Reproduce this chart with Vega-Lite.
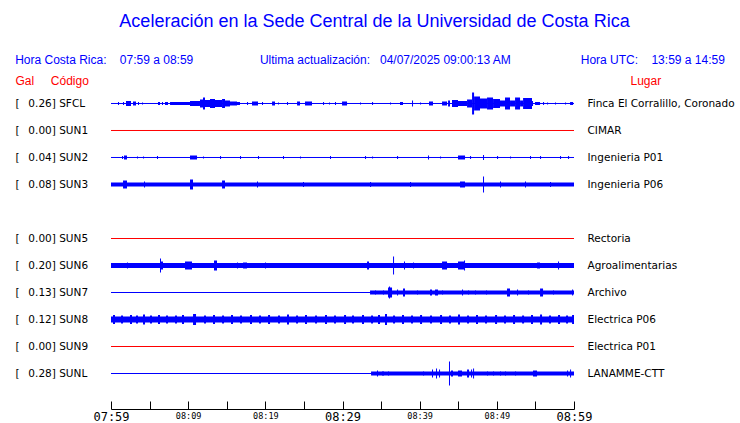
{
  "$schema": "https://vega.github.io/schema/vega-lite/v6.json",
  "width": 463,
  "height": 319,
  "autosize": "none",
  "padding": {"left": 111, "top": 90, "right": 166, "bottom": 14},
  "background": "white",
  "config": {"view": {"stroke": null}, "font": "DejaVu Sans"},
  "title": {
    "text": "Aceleración en la Sede Central de la Universidad de Costa Rica",
    "subtitle": "Hora Costa Rica:\u00a0\u00a0\u00a0\u00a007:59 a 08:59\u00a0\u00a0\u00a0\u00a0\u00a0\u00a0\u00a0\u00a0\u00a0\u00a0\u00a0\u00a0\u00a0\u00a0\u00a0\u00a0\u00a0\u00a0\u00a0\u00a0Ultima actualización:\u00a0\u00a0\u00a004/07/2025 09:00:13 AM\u00a0\u00a0\u00a0\u00a0\u00a0\u00a0\u00a0\u00a0\u00a0\u00a0\u00a0\u00a0\u00a0\u00a0\u00a0\u00a0\u00a0\u00a0\u00a0\u00a0\u00a0Hora UTC:\u00a0\u00a0\u00a0\u00a013:59 a 14:59\u2800",
    "anchor": "middle",
    "frame": "group",
    "dx": 32,
    "offset": 8,
    "font": "Liberation Sans",
    "fontSize": 18,
    "fontWeight": "normal",
    "color": "#0000ff",
    "subtitleFont": "Liberation Sans",
    "subtitleFontSize": 12,
    "subtitleColor": "#0000ff",
    "subtitlePadding": 24
  },
  "datasets": {
    "estaciones": [
      {"codigo": "SFCL", "gal": 0.26, "etiqueta": "[\u00a0\u00a0\u20090.26] SFCL", "lugar": "Finca El Corralillo, Coronado"},
      {"codigo": "SUN1", "gal": 0.00, "etiqueta": "[\u00a0\u00a0\u20090.00] SUN1", "lugar": "CIMAR"},
      {"codigo": "SUN2", "gal": 0.04, "etiqueta": "[\u00a0\u00a0\u20090.04] SUN2", "lugar": "Ingenieria P01"},
      {"codigo": "SUN3", "gal": 0.08, "etiqueta": "[\u00a0\u00a0\u20090.08] SUN3", "lugar": "Ingenieria P06"},
      {"codigo": "SUN4", "etiqueta": "", "lugar": ""},
      {"codigo": "SUN5", "gal": 0.00, "etiqueta": "[\u00a0\u00a0\u20090.00] SUN5", "lugar": "Rectoria"},
      {"codigo": "SUN6", "gal": 0.20, "etiqueta": "[\u00a0\u00a0\u20090.20] SUN6", "lugar": "Agroalimentarias"},
      {"codigo": "SUN7", "gal": 0.13, "etiqueta": "[\u00a0\u00a0\u20090.13] SUN7", "lugar": "Archivo"},
      {"codigo": "SUN8", "gal": 0.12, "etiqueta": "[\u00a0\u00a0\u20090.12] SUN8", "lugar": "Electrica P06"},
      {"codigo": "SUN9", "gal": 0.00, "etiqueta": "[\u00a0\u00a0\u20090.00] SUN9", "lugar": "Electrica P01"},
      {"codigo": "SUNL", "gal": 0.28, "etiqueta": "[\u00a0\u00a0\u20090.28] SUNL", "lugar": "LANAMME-CTT"}
    ],
    "senal": [
      {"c":"SFCL","a":0.91,"b":1.04,"h":3},
      {"c":"SFCL","a":1.56,"b":1.69,"h":3},
      {"c":"SFCL","a":1.94,"b":2.59,"h":5},
      {"c":"SFCL","a":2.85,"b":3.24,"h":4},
      {"c":"SFCL","a":3.50,"b":3.63,"h":3},
      {"c":"SFCL","a":4.02,"b":4.15,"h":2},
      {"c":"SFCL","a":6.09,"b":6.35,"h":3},
      {"c":"SFCL","a":6.61,"b":6.74,"h":3},
      {"c":"SFCL","a":7.00,"b":7.39,"h":3},
      {"c":"SFCL","a":7.65,"b":10.24,"h":3},
      {"c":"SFCL","a":10.24,"b":11.53,"h":5},
      {"c":"SFCL","a":11.53,"b":11.92,"h":8},
      {"c":"SFCL","a":11.92,"b":12.18,"h":12},
      {"c":"SFCL","a":12.18,"b":12.83,"h":7},
      {"c":"SFCL","a":12.83,"b":13.48,"h":9},
      {"c":"SFCL","a":13.48,"b":14.39,"h":7},
      {"c":"SFCL","a":14.39,"b":14.77,"h":9},
      {"c":"SFCL","a":14.77,"b":15.42,"h":6},
      {"c":"SFCL","a":15.42,"b":16.33,"h":4},
      {"c":"SFCL","a":16.33,"b":16.72,"h":3},
      {"c":"SFCL","a":17.63,"b":17.76,"h":3},
      {"c":"SFCL","a":18.27,"b":19.05,"h":4},
      {"c":"SFCL","a":19.57,"b":19.70,"h":3},
      {"c":"SFCL","a":20.87,"b":21.25,"h":4},
      {"c":"SFCL","a":21.64,"b":21.77,"h":2},
      {"c":"SFCL","a":22.81,"b":22.94,"h":3},
      {"c":"SFCL","a":24.11,"b":24.49,"h":4},
      {"c":"SFCL","a":25.14,"b":26.05,"h":4},
      {"c":"SFCL","a":27.48,"b":27.61,"h":3},
      {"c":"SFCL","a":28.25,"b":28.38,"h":2},
      {"c":"SFCL","a":29.03,"b":29.16,"h":3},
      {"c":"SFCL","a":29.94,"b":30.59,"h":4},
      {"c":"SFCL","a":32.27,"b":32.40,"h":2},
      {"c":"SFCL","a":33.83,"b":33.96,"h":3},
      {"c":"SFCL","a":36.16,"b":36.29,"h":2},
      {"c":"SFCL","a":37.45,"b":37.84,"h":3},
      {"c":"SFCL","a":39.01,"b":39.14,"h":6},
      {"c":"SFCL","a":40.05,"b":40.18,"h":2},
      {"c":"SFCL","a":41.21,"b":41.73,"h":4},
      {"c":"SFCL","a":42.90,"b":43.55,"h":4},
      {"c":"SFCL","a":43.68,"b":43.93,"h":6},
      {"c":"SFCL","a":44.19,"b":44.97,"h":7},
      {"c":"SFCL","a":44.97,"b":46.14,"h":5},
      {"c":"SFCL","a":46.14,"b":46.79,"h":8},
      {"c":"SFCL","a":46.79,"b":47.05,"h":22},
      {"c":"SFCL","a":47.05,"b":47.82,"h":14},
      {"c":"SFCL","a":47.82,"b":48.73,"h":10},
      {"c":"SFCL","a":48.73,"b":49.51,"h":12},
      {"c":"SFCL","a":49.51,"b":50.41,"h":9},
      {"c":"SFCL","a":50.41,"b":51.06,"h":6},
      {"c":"SFCL","a":51.06,"b":51.71,"h":12},
      {"c":"SFCL","a":51.71,"b":52.36,"h":6},
      {"c":"SFCL","a":52.36,"b":53.01,"h":12},
      {"c":"SFCL","a":53.01,"b":53.40,"h":6},
      {"c":"SFCL","a":53.40,"b":54.56,"h":11},
      {"c":"SFCL","a":54.56,"b":54.69,"h":5},
      {"c":"SFCL","a":54.95,"b":55.60,"h":3},
      {"c":"SFCL","a":55.99,"b":56.12,"h":3},
      {"c":"SFCL","a":56.51,"b":56.64,"h":2},
      {"c":"SFCL","a":57.54,"b":57.67,"h":2},
      {"c":"SFCL","a":58.84,"b":58.97,"h":2},
      {"c":"SFCL","a":59.49,"b":59.88,"h":3},

      {"c":"SUN2","a":1.43,"b":1.56,"h":3},
      {"c":"SUN2","a":1.68,"b":2.07,"h":4},
      {"c":"SUN2","a":3.37,"b":3.50,"h":2},
      {"c":"SUN2","a":4.15,"b":4.28,"h":2},
      {"c":"SUN2","a":5.96,"b":6.09,"h":3},
      {"c":"SUN2","a":10.24,"b":11.15,"h":4},
      {"c":"SUN2","a":11.92,"b":12.05,"h":2},
      {"c":"SUN2","a":14.13,"b":14.26,"h":3},
      {"c":"SUN2","a":16.72,"b":16.85,"h":3},
      {"c":"SUN2","a":19.05,"b":19.18,"h":3},
      {"c":"SUN2","a":22.29,"b":22.42,"h":3},
      {"c":"SUN2","a":24.49,"b":24.62,"h":2},
      {"c":"SUN2","a":28.38,"b":28.51,"h":3},
      {"c":"SUN2","a":32.92,"b":33.05,"h":3},
      {"c":"SUN2","a":33.83,"b":33.96,"h":2},
      {"c":"SUN2","a":37.07,"b":37.20,"h":3},
      {"c":"SUN2","a":41.08,"b":41.21,"h":4},
      {"c":"SUN2","a":42.64,"b":42.77,"h":2},
      {"c":"SUN2","a":44.97,"b":45.88,"h":4},
      {"c":"SUN2","a":46.53,"b":46.66,"h":3},
      {"c":"SUN2","a":48.21,"b":48.34,"h":5},
      {"c":"SUN2","a":50.03,"b":50.16,"h":3},
      {"c":"SUN2","a":51.71,"b":51.84,"h":2},
      {"c":"SUN2","a":54.30,"b":54.43,"h":3},
      {"c":"SUN2","a":55.60,"b":55.73,"h":3},
      {"c":"SUN2","a":58.19,"b":58.32,"h":3},
      {"c":"SUN2","a":59.23,"b":59.36,"h":3},

      {"c":"SUN3","a":0,"b":60,"h":4},
      {"c":"SUN3","a":1.56,"b":2.07,"h":8},
      {"c":"SUN3","a":4.28,"b":4.41,"h":6},
      {"c":"SUN3","a":10.24,"b":10.63,"h":10},
      {"c":"SUN3","a":14.39,"b":14.77,"h":8},
      {"c":"SUN3","a":18.92,"b":19.05,"h":6},
      {"c":"SUN3","a":24.88,"b":25.01,"h":5},
      {"c":"SUN3","a":33.57,"b":33.70,"h":5},
      {"c":"SUN3","a":38.75,"b":38.88,"h":5},
      {"c":"SUN3","a":45.23,"b":45.88,"h":6},
      {"c":"SUN3","a":48.21,"b":48.34,"h":16},
      {"c":"SUN3","a":50.41,"b":50.54,"h":6},
      {"c":"SUN3","a":53.65,"b":53.78,"h":6},
      {"c":"SUN3","a":56.89,"b":57.02,"h":5},

      {"c":"SUN6","a":0,"b":60,"h":5},
      {"c":"SUN6","a":2.07,"b":2.20,"h":6},
      {"c":"SUN6","a":3.63,"b":3.76,"h":3},
      {"c":"SUN6","a":6.35,"b":6.48,"h":14},
      {"c":"SUN6","a":6.48,"b":6.74,"h":8},
      {"c":"SUN6","a":9.59,"b":10.50,"h":8},
      {"c":"SUN6","a":13.35,"b":13.74,"h":10},
      {"c":"SUN6","a":16.33,"b":16.46,"h":6},
      {"c":"SUN6","a":17.11,"b":17.63,"h":6},
      {"c":"SUN6","a":19.96,"b":20.09,"h":6},
      {"c":"SUN6","a":23.20,"b":23.33,"h":4},
      {"c":"SUN6","a":27.09,"b":27.22,"h":4},
      {"c":"SUN6","a":29.94,"b":30.07,"h":4},
      {"c":"SUN6","a":31.36,"b":31.49,"h":4},
      {"c":"SUN6","a":32.53,"b":32.66,"h":3},
      {"c":"SUN6","a":33.18,"b":33.44,"h":8},
      {"c":"SUN6","a":33.96,"b":34.09,"h":3},
      {"c":"SUN6","a":36.55,"b":36.68,"h":18},
      {"c":"SUN6","a":37.07,"b":37.45,"h":4},
      {"c":"SUN6","a":37.97,"b":38.10,"h":8},
      {"c":"SUN6","a":39.14,"b":39.27,"h":6},
      {"c":"SUN6","a":40.95,"b":41.08,"h":3},
      {"c":"SUN6","a":41.86,"b":41.99,"h":4},
      {"c":"SUN6","a":42.90,"b":43.55,"h":8},
      {"c":"SUN6","a":43.93,"b":44.06,"h":4},
      {"c":"SUN6","a":44.97,"b":45.75,"h":8},
      {"c":"SUN6","a":45.75,"b":45.88,"h":10},
      {"c":"SUN6","a":46.53,"b":46.66,"h":4},
      {"c":"SUN6","a":47.82,"b":47.95,"h":4},
      {"c":"SUN6","a":49.38,"b":49.51,"h":4},
      {"c":"SUN6","a":50.67,"b":50.80,"h":4},
      {"c":"SUN6","a":52.10,"b":52.23,"h":4},
      {"c":"SUN6","a":53.65,"b":53.78,"h":4},
      {"c":"SUN6","a":55.21,"b":55.60,"h":6},
      {"c":"SUN6","a":56.12,"b":56.25,"h":4},
      {"c":"SUN6","a":57.93,"b":58.06,"h":8},
      {"c":"SUN6","a":59.49,"b":59.62,"h":4},

      {"c":"SUN7","a":33.57,"b":60,"h":4},
      {"c":"SUN7","a":34.21,"b":34.34,"h":4},
      {"c":"SUN7","a":35.25,"b":35.38,"h":4},
      {"c":"SUN7","a":35.90,"b":36.42,"h":10},
      {"c":"SUN7","a":36.03,"b":36.16,"h":12},
      {"c":"SUN7","a":37.07,"b":37.20,"h":6},
      {"c":"SUN7","a":37.84,"b":38.10,"h":8},
      {"c":"SUN7","a":39.66,"b":39.79,"h":4},
      {"c":"SUN7","a":41.34,"b":41.60,"h":6},
      {"c":"SUN7","a":41.99,"b":42.38,"h":6},
      {"c":"SUN7","a":42.90,"b":43.03,"h":4},
      {"c":"SUN7","a":45.49,"b":45.62,"h":6},
      {"c":"SUN7","a":46.27,"b":46.40,"h":4},
      {"c":"SUN7","a":47.17,"b":47.30,"h":4},
      {"c":"SUN7","a":48.60,"b":48.73,"h":4},
      {"c":"SUN7","a":51.32,"b":51.71,"h":8},
      {"c":"SUN7","a":52.62,"b":52.75,"h":6},
      {"c":"SUN7","a":54.04,"b":54.17,"h":4},
      {"c":"SUN7","a":55.60,"b":55.99,"h":8},
      {"c":"SUN7","a":57.28,"b":57.41,"h":4},
      {"c":"SUN7","a":59.75,"b":59.88,"h":6},

      {"c":"SUN8","a":0,"b":60,"h":6},
      {"c":"SUN8","a":0.26,"b":0.52,"h":9},
      {"c":"SUN8","a":1.30,"b":1.56,"h":8},
      {"c":"SUN8","a":2.46,"b":2.72,"h":9},
      {"c":"SUN8","a":3.24,"b":3.50,"h":8},
      {"c":"SUN8","a":4.15,"b":4.41,"h":10},
      {"c":"SUN8","a":5.05,"b":5.31,"h":8},
      {"c":"SUN8","a":6.09,"b":6.35,"h":9},
      {"c":"SUN8","a":7.13,"b":7.39,"h":8},
      {"c":"SUN8","a":8.29,"b":8.55,"h":8},
      {"c":"SUN8","a":9.20,"b":9.46,"h":9},
      {"c":"SUN8","a":10.63,"b":11.02,"h":11},
      {"c":"SUN8","a":12.05,"b":12.31,"h":8},
      {"c":"SUN8","a":13.22,"b":13.48,"h":9},
      {"c":"SUN8","a":14.39,"b":14.65,"h":8},
      {"c":"SUN8","a":15.55,"b":15.81,"h":9},
      {"c":"SUN8","a":16.72,"b":16.98,"h":8},
      {"c":"SUN8","a":18.01,"b":18.27,"h":9},
      {"c":"SUN8","a":19.18,"b":19.44,"h":8},
      {"c":"SUN8","a":20.35,"b":20.61,"h":9},
      {"c":"SUN8","a":21.64,"b":21.90,"h":8},
      {"c":"SUN8","a":22.81,"b":23.07,"h":10},
      {"c":"SUN8","a":23.98,"b":24.24,"h":8},
      {"c":"SUN8","a":25.14,"b":25.40,"h":9},
      {"c":"SUN8","a":26.44,"b":26.70,"h":8},
      {"c":"SUN8","a":27.73,"b":27.99,"h":9},
      {"c":"SUN8","a":28.90,"b":29.16,"h":8},
      {"c":"SUN8","a":30.20,"b":30.46,"h":9},
      {"c":"SUN8","a":31.23,"b":31.49,"h":8},
      {"c":"SUN8","a":32.53,"b":32.79,"h":9},
      {"c":"SUN8","a":33.70,"b":33.96,"h":8},
      {"c":"SUN8","a":34.60,"b":34.86,"h":9},
      {"c":"SUN8","a":35.51,"b":35.77,"h":11},
      {"c":"SUN8","a":36.55,"b":36.81,"h":8},
      {"c":"SUN8","a":37.71,"b":37.97,"h":9},
      {"c":"SUN8","a":38.88,"b":39.14,"h":8},
      {"c":"SUN8","a":40.05,"b":40.31,"h":9},
      {"c":"SUN8","a":41.34,"b":41.60,"h":8},
      {"c":"SUN8","a":42.64,"b":42.90,"h":9},
      {"c":"SUN8","a":43.80,"b":44.06,"h":8},
      {"c":"SUN8","a":44.97,"b":45.23,"h":10},
      {"c":"SUN8","a":46.14,"b":46.40,"h":8},
      {"c":"SUN8","a":47.30,"b":47.56,"h":9},
      {"c":"SUN8","a":48.47,"b":48.73,"h":8},
      {"c":"SUN8","a":49.77,"b":50.03,"h":9},
      {"c":"SUN8","a":50.93,"b":51.19,"h":8},
      {"c":"SUN8","a":52.10,"b":52.36,"h":9},
      {"c":"SUN8","a":53.27,"b":53.53,"h":8},
      {"c":"SUN8","a":54.43,"b":54.69,"h":9},
      {"c":"SUN8","a":55.60,"b":55.86,"h":10},
      {"c":"SUN8","a":56.76,"b":57.02,"h":8},
      {"c":"SUN8","a":57.93,"b":58.19,"h":9},
      {"c":"SUN8","a":58.97,"b":59.23,"h":8},
      {"c":"SUN8","a":59.75,"b":60,"h":9},

      {"c":"SUNL","a":33.70,"b":60,"h":4},
      {"c":"SUNL","a":34.47,"b":34.60,"h":6},
      {"c":"SUNL","a":35.12,"b":35.38,"h":4},
      {"c":"SUNL","a":35.90,"b":36.03,"h":4},
      {"c":"SUNL","a":36.81,"b":36.94,"h":3},
      {"c":"SUNL","a":38.75,"b":38.88,"h":3},
      {"c":"SUNL","a":39.79,"b":39.92,"h":3},
      {"c":"SUNL","a":40.44,"b":40.57,"h":4},
      {"c":"SUNL","a":41.60,"b":41.73,"h":8},
      {"c":"SUNL","a":42.12,"b":42.25,"h":10},
      {"c":"SUNL","a":42.51,"b":42.64,"h":8},
      {"c":"SUNL","a":43.80,"b":43.93,"h":24},
      {"c":"SUNL","a":44.06,"b":44.32,"h":6},
      {"c":"SUNL","a":44.97,"b":45.49,"h":6},
      {"c":"SUNL","a":46.14,"b":46.40,"h":8},
      {"c":"SUNL","a":46.66,"b":46.79,"h":8},
      {"c":"SUNL","a":46.92,"b":47.05,"h":10},
      {"c":"SUNL","a":48.73,"b":48.86,"h":4},
      {"c":"SUNL","a":49.51,"b":49.64,"h":4},
      {"c":"SUNL","a":50.41,"b":50.54,"h":4},
      {"c":"SUNL","a":51.06,"b":51.19,"h":4},
      {"c":"SUNL","a":52.36,"b":52.49,"h":4},
      {"c":"SUNL","a":53.27,"b":53.40,"h":3},
      {"c":"SUNL","a":54.69,"b":55.21,"h":6},
      {"c":"SUNL","a":57.28,"b":57.41,"h":3},
      {"c":"SUNL","a":59.10,"b":59.23,"h":6},
      {"c":"SUNL","a":59.49,"b":59.62,"h":8}
    ]
  },
  "encoding": {
    "x": {
      "type": "quantitative",
      "scale": {"domain": [0, 60], "nice": false, "zero": false},
      "axis": {
        "values": [0, 5, 10, 15, 20, 25, 30, 35, 40, 45, 50, 55, 60],
        "labelExpr": "datum.value % 10 === 0 ? (floor((479 + datum.value) / 60) < 10 ? '0' : '') + floor((479 + datum.value) / 60) + ':' + (((479 + datum.value) % 60) < 10 ? '0' : '') + ((479 + datum.value) % 60) : ''",
        "title": null,
        "grid": false,
        "domainColor": "#000000",
        "tickColor": "#000000",
        "tickSize": -8,
        "labelPadding": 10,
        "labelFont": "DejaVu Sans Mono",
        "labelFontWeight": "normal",
        "labelFontSize": {"condition": {"test": "datum.value % 30 === 0", "value": 12}, "value": 8.5},
        "labelColor": "#000000",
        "labelBaseline": "top",
        "labelFlush": false,
        "labelOverlap": false,
        "labelBound": false
      }
    }
  },
  "layer": [
    {
      "data": {"name": "senal"},
      "mark": {"type": "rule", "color": "#0000ff"},
      "encoding": {
        "x": {"field": "a", "type": "quantitative"},
        "x2": {"field": "b"},
        "y": {
          "field": "c",
          "type": "nominal",
          "scale": {"type": "point", "domain": ["SFCL", "SUN1", "SUN2", "SUN3", "SUN4", "SUN5", "SUN6", "SUN7", "SUN8", "SUN9", "SUNL"], "padding": 0.907, "align": 0.2755},
          "axis": null
        },
        "strokeWidth": {"field": "h", "type": "quantitative", "scale": {"domain": [0, 30], "range": [0, 30]}, "legend": null}
      }
    },
    {
      "data": {"name": "estaciones"},
      "mark": {"type": "rule", "strokeWidth": 1},
      "encoding": {
        "x": {"datum": 0, "type": "quantitative"},
        "x2": {"datum": 60},
        "y": {
          "field": "etiqueta",
          "type": "nominal",
          "sort": null,
          "scale": {"type": "point", "padding": 0.907, "align": 0.2755},
          "axis": {
            "orient": "left",
            "title": "Gal\u00a0\u00a0\u00a0\u00a0\u00a0Código",
            "titleAngle": 0,
            "titleAlign": "left",
            "titleBaseline": "middle",
            "titleX": -96,
            "titleY": -10,
            "titleFont": "Liberation Sans",
            "titleFontSize": 12,
            "titleFontWeight": "normal",
            "titleColor": "#ff0000",
            "domain": false,
            "ticks": false,
            "grid": false,
            "labelAlign": "left",
            "labelPadding": 96,
            "labelFont": "DejaVu Sans",
            "labelFontSize": 10.5,
            "labelColor": "#000000",
            "labelBound": false,
            "labelOverlap": false,
            "labelLimit": 0
          }
        },
        "color": {"condition": {"test": "datum.gal === 0", "value": "#ff0000"}, "value": "#0000ff"},
        "opacity": {"condition": {"test": "datum.gal == null", "value": 0}, "value": 1}
      }
    },
    {
      "data": {"name": "estaciones"},
      "mark": {"type": "point", "opacity": 0},
      "encoding": {
        "x": {"datum": 0, "type": "quantitative"},
        "y": {
          "field": "lugar",
          "type": "nominal",
          "sort": null,
          "scale": {"type": "point", "padding": 0.907, "align": 0.2755},
          "axis": {
            "orient": "right",
            "title": "Lugar",
            "titleAngle": 0,
            "titleAlign": "left",
            "titleBaseline": "middle",
            "titleX": 56,
            "titleY": -10,
            "titleFont": "Liberation Sans",
            "titleFontSize": 12,
            "titleFontWeight": "normal",
            "titleColor": "#ff0000",
            "domain": false,
            "ticks": false,
            "grid": false,
            "labelAlign": "left",
            "labelPadding": 13,
            "labelFont": "DejaVu Sans",
            "labelFontSize": 10.5,
            "labelColor": "#000000",
            "labelBound": false,
            "labelOverlap": false,
            "labelLimit": 0
          }
        }
      }
    }
  ],
  "resolve": {"scale": {"y": "independent"}, "axis": {"y": "independent"}}
}
